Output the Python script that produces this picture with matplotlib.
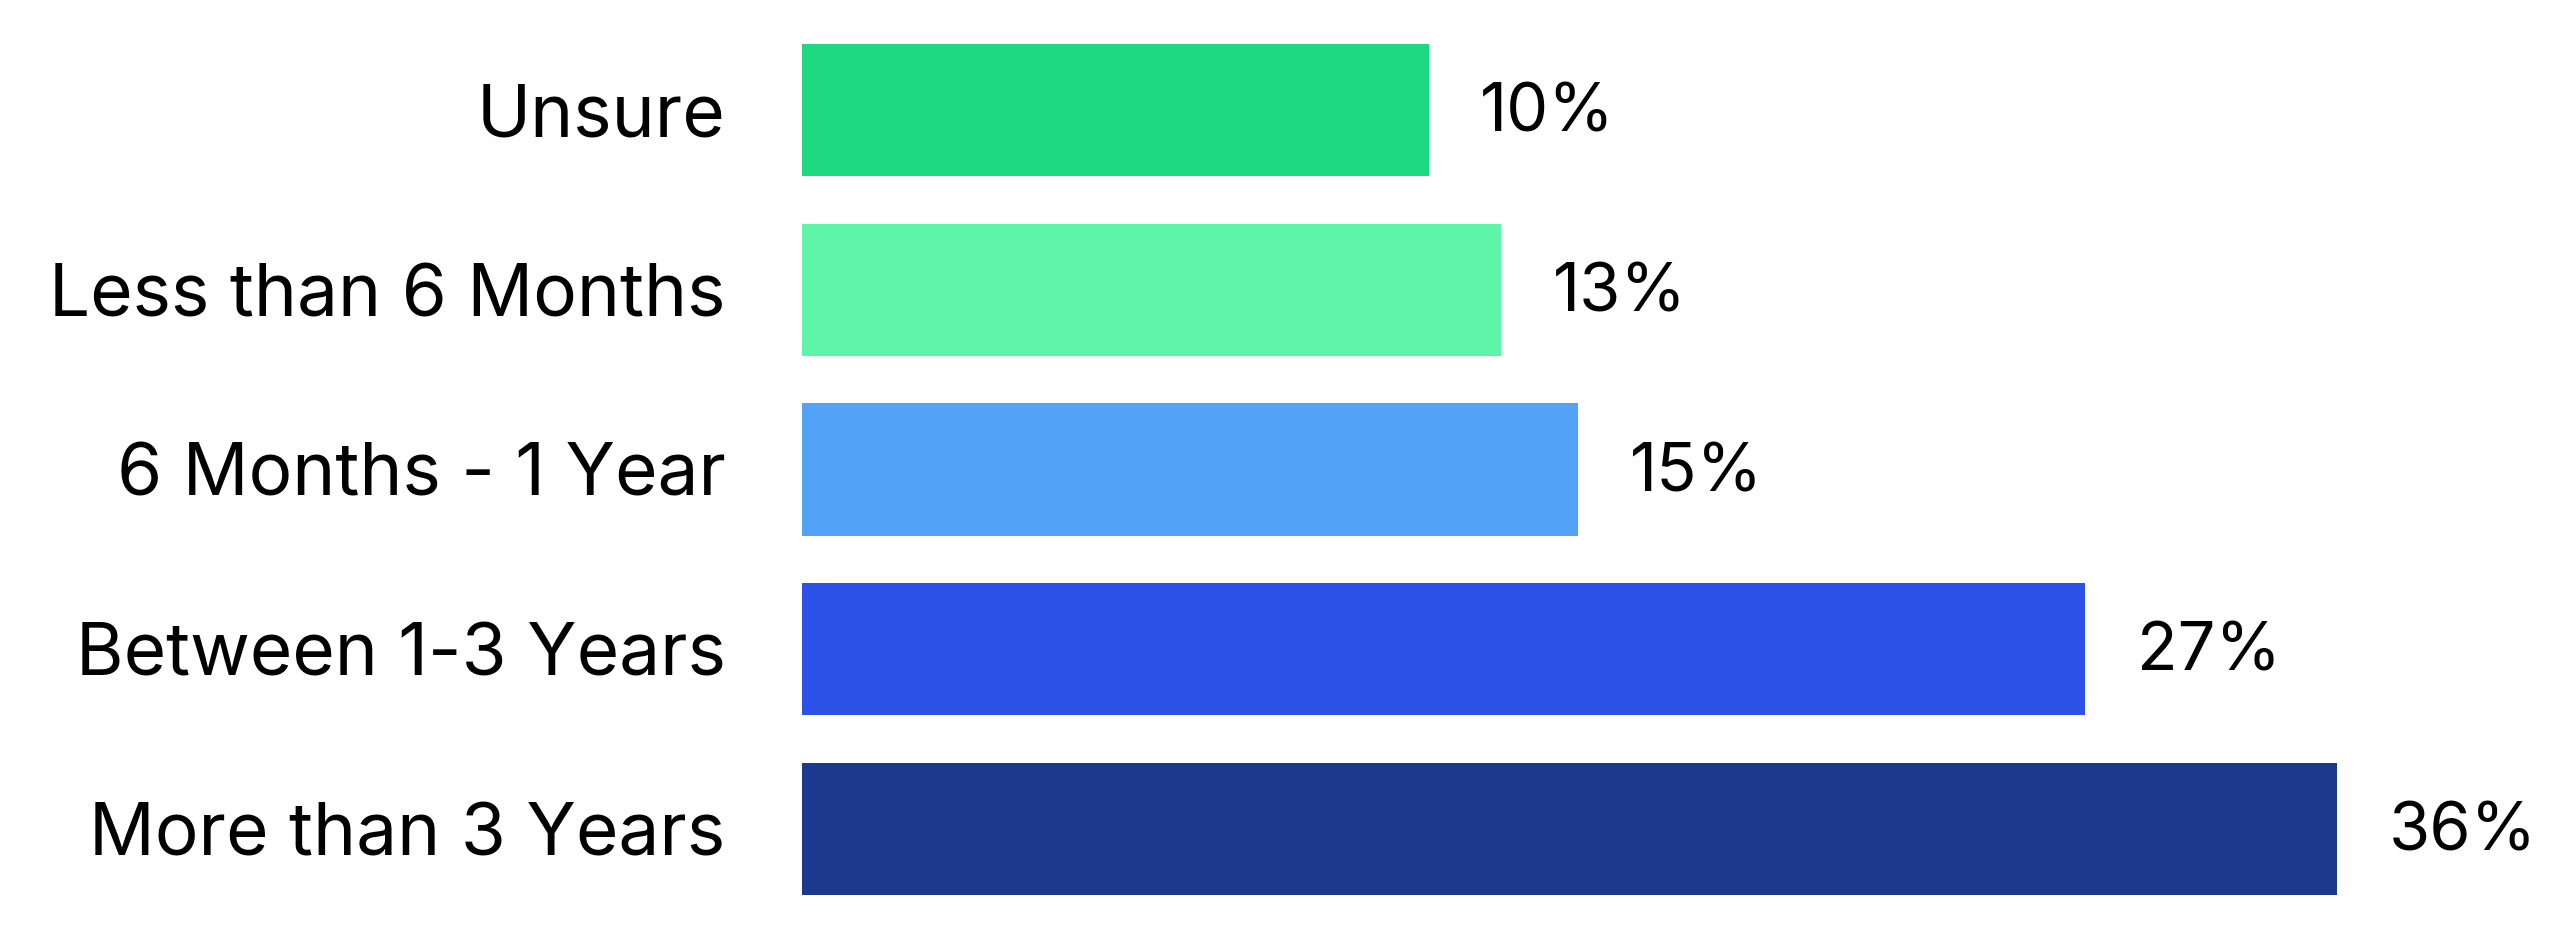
import matplotlib
matplotlib.use("Agg")
from matplotlib import pyplot as plt

# Categories, top to bottom
categories = ["Unsure", "Less than 6 Months", "6 Months - 1 Year",
              "Between 1-3 Years", "More than 3 Years"]
# Printed percentages
pct_labels = ["10%", "13%", "15%", "27%", "36%"]
# Bar lengths as drawn in the picture (percent scale)
bar_len = [14.7, 16.4, 18.2, 30.1, 36.0]

colors = ["#1FD882", "#5EF5A9", "#52A3F8", "#2C52E8", "#1C398F"]

plt.rcParams['font.family'] = ['Inter', 'DejaVu Sans']

fig = plt.figure(figsize=(25.6, 9.42), dpi=100)
ax = fig.add_axes([802 / 2560, 23 / 942, 1535 / 2560, 899 / 942])

ypos = list(range(len(categories)))
ax.barh(ypos, bar_len, height=0.735, color=colors)

for y, v, lab in zip(ypos, bar_len, pct_labels):
    ax.annotate(lab, (v, y), xytext=(37, -3), textcoords='offset points',
                va='center', ha='left', fontsize=48, color='black',
                annotation_clip=False)

ax.set_xlim(0, 36)
ax.set_ylim(4.5, -0.5)
ax.set_yticks(ypos)
ax.set_yticklabels(categories, fontsize=52.5)
ax.tick_params(axis='y', length=0, pad=55)
ax.set_xticks([])
for s in ax.spines.values():
    s.set_visible(False)

fig.savefig("out.png", dpi=100)
